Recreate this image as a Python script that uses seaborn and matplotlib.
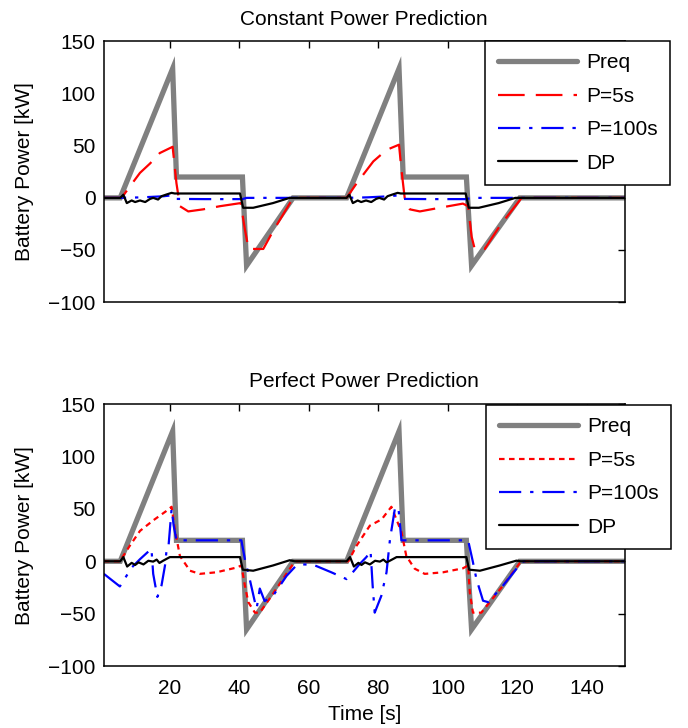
import numpy as np
import pandas as pd
import seaborn as sns
import matplotlib.pyplot as plt

# requested power, same in both panels
t_req = [1, 5.7, 20.8, 21.9, 40.9, 42.1, 55.5, 70.9, 86.0, 87.2, 105.4, 106.9, 120.8, 151]
p_req = [0, 0, 124, 20, 20, -65, 0, 0, 124, 20, 20, -65, 0, 0]

# --- constant power prediction ---
t_c5 = [1, 6.1, 8.5, 11.4, 14.3, 17.1, 20.8, 21.3, 21.9, 22.9, 25.3, 29.6, 34.4, 40.4,
        41.6, 42.6, 43.0, 46.9, 49.7, 55.5,
        70.9, 73.8, 78.6, 82.4, 86.0, 86.7, 87.7, 89.1, 92.0, 97.7, 104.4, 105.9,
        106.9, 107.8, 110.7, 115.0, 121.3, 151]
p_c5 = [0, 0, 11, 24, 33, 43, 49, 33, 14, -8, -13, -11, -8, -5,
        -30, -48, -49, -49, -32, 0,
        0, 14, 35, 46, 51, 27, -2, -11, -13, -9.5, -5.5, -8,
        -37, -49, -49, -27, 0, 0]

t_c100 = [1, 5.7, 12, 18, 20.8, 21.9, 30, 40.9, 42.1, 70.9, 77, 83, 86.0, 87.2, 95, 105.4, 106.9, 151]
p_c100 = [0, 0, 0.5, 1.5, 2.5, -1, -1.2, -1.2, 0, 0, 0.5, 1.5, 2.5, -1, -1.2, -1.2, 0, 0]

t_dp1 = [1, 5.7, 6.6, 7.6, 9.0, 10.0, 11.4, 12.9, 14.3, 15.2, 16.6, 17.6, 19.0, 20.5, 21.4,
         40.2, 41.1, 44.0, 49.7, 54.5,
         70.9, 71.7, 72.7, 74.1, 75.1, 76.5, 78.0, 79.4, 80.3, 81.7, 82.7, 84.1, 85.6, 86.5,
         105.2, 106.1, 109.0, 114.7, 119.5, 151]
p_dp1 = [0, 0, 3, -5, -2.5, -4, -2.5, -4, -1, 0, -1.6, 1.6, 3.2, 4.8, 4.2,
         4.2, -9.5, -9.5, -5, 0,
         0, 3, -5, -2.5, -4, -2.5, -4, -1, 0, -1.6, 1.6, 3.2, 4.8, 4.2,
         4.2, -9.5, -9.5, -5, 0, 0]

# --- perfect power prediction ---
t_p5 = [1, 5.6, 8.5, 11.4, 15.2, 19.0, 20.5, 21.4, 22.9, 25.8, 28.6, 33.4, 39.2, 40.6,
        41.6, 42.6, 44.5, 45.9, 49.7, 55.5, 56.2,
        71.4, 73.8, 77.6, 81.0, 83.8, 86.7, 88.1, 90.5, 93.4, 98.7, 104.4, 105.9,
        106.4, 107.3, 109.7, 116.0, 120.8, 121.5, 151]
p_p5 = [0, 0, 15, 29, 39, 48, 52, 31, 5, -9, -12, -10.5, -6, -4,
        -23, -39, -49, -49, -31, -2.5, 0,
        0, 15, 34, 40, 52, 28, 5, -7, -12, -10.5, -6.7, -4,
        -30, -49, -49, -23, -1.6, 0, 0]

t_p100 = [1, 5.6, 9.0, 11.4, 14.7, 15.2, 16.4, 17.6, 18.6, 19.0, 19.5, 20.5, 21.1, 21.9,
          40.6, 41.6, 43.0, 44.5, 45.0, 45.9, 47.3, 49.7, 53.6, 56.4, 58.4, 61.3, 66.5,
          70.9, 72.3, 74.7, 76.6, 77.8, 78.4, 79.0, 80.9, 82.4, 83.4, 84.8, 85.8, 86.7,
          105.9, 107.2, 108.3, 110.2, 111.7, 116.0, 121.3, 122, 151]
p_p100 = [-12, -24, -6, 2, 12, -12, -34, -23, -4, 9, 10, 50, 34, 20,
          20, 2, -17, -39, -45, -26, -38, -33, -14, -4, -3, -3.3, -10.5,
          -17, -12, -2.5, 4, 10, -23, -49, -33, -10.5, 21, 50, 52, 20,
          20, 0.6, -17, -37.6, -39, -23, -1, 0, 0]

t_dp2 = [1, 5.7, 6.6, 7.7, 9.0, 10.0, 11.0, 12.4, 13.8, 15.2, 16.2, 17.0, 18.1, 20.0,
         40.2, 41.0, 44.0, 49.7, 54.5, 56.0,
         70.9, 71.9, 73.0, 74.3, 75.2, 76.2, 77.6, 79.1, 80.5, 81.5, 82.4, 83.4, 85.3,
         105.4, 106.2, 109.3, 115.0, 119.8, 121.0, 151]
p_dp2 = [0, 0, 4, -5, -1.5, -3.5, -1, -3, 0.5, -0.3, 1.6, -1.6, 0.6, 4,
         4, -8, -9, -4, 1, 0,
         0, 4, -5, -1.5, -3.5, -1, -3, 0.5, -0.3, 1.6, -1, 0.6, 4,
         4, -8, -9, -4, 0.6, 0, 0]

x_ticks = [20, 40, 60, 80, 100, 120, 140]
y_ticks = [-100, -50, 0, 50, 100, 150]

sns.set_style("white")
plt.rcParams['font.family'] = ['Liberation Sans', 'DejaVu Sans']
plt.rcParams['font.size'] = 15
for k in ['text.color', 'axes.labelcolor', 'xtick.color', 'ytick.color']:
    plt.rcParams[k] = 'black'

fig = plt.figure(figsize=(6.88, 7.28), dpi=100)
ax1 = fig.add_axes([0.151, 0.585, 0.757, 0.358])
ax2 = fig.add_axes([0.151, 0.085, 0.757, 0.360])

gray = '#808080'
dash_red = (0, (12, 5))
dashdot = (0, (10, 4, 1.5, 4))
dotted = (0, (2.5, 2))

# legend top-left corners in pixels (they stick out past the right spine)
panels = [
    (ax1, "Constant Power Prediction", (t_c5, p_c5, dash_red), (t_c100, p_c100), (t_dp1, p_dp1), (485, 41)),
    (ax2, "Perfect Power Prediction", (t_p5, p_p5, dotted), (t_p100, p_p100), (t_dp2, p_dp2), (486, 405)),
]

for ax, title, red, blue, black, corner in panels:
    sns.lineplot(x=t_req, y=p_req, ax=ax, color=gray, lw=3.8, estimator=None, sort=False,
                 label='Preq', solid_joinstyle='miter')
    sns.lineplot(x=red[0], y=red[1], ax=ax, color='red', lw=1.6, estimator=None, sort=False,
                 label='P=5s', linestyle=red[2])
    sns.lineplot(x=blue[0], y=blue[1], ax=ax, color='blue', lw=1.6, estimator=None, sort=False,
                 label='P=100s', linestyle=dashdot)
    sns.lineplot(x=black[0], y=black[1], ax=ax, color='black', lw=1.6, estimator=None, sort=False,
                 label='DP')
    ax.set_xlim(1, 151)
    ax.set_ylim(-100, 150)
    ax.set_xticks(x_ticks)
    ax.set_yticks(y_ticks)
    ax.set_title(title, fontsize=15, pad=12)
    ax.set_ylabel("Battery Power [kW]", fontsize=15, labelpad=10)
    ax.tick_params(direction='in', length=5, width=1, top=True, right=True, labelsize=15, pad=6)
    ax.tick_params(axis='x', pad=9)
    for s in ax.spines.values():
        s.set_visible(True)
        s.set_color('black')
        s.set_linewidth(1.1)
    leg = ax.legend(loc='upper left', bbox_to_anchor=(corner[0] / 688, 1 - corner[1] / 728),
                    bbox_transform=fig.transFigure, borderaxespad=0, fancybox=False, fontsize=15,
                    handlelength=3.8, handletextpad=0.45, labelspacing=0.69,
                    borderpad=0.6, framealpha=1)
    leg.get_frame().set_edgecolor('black')
    leg.get_frame().set_linewidth(1.1)

ax1.set_xticklabels([])
ax1.set_xlabel("")
ax2.set_xlabel("Time [s]", fontsize=15, labelpad=5)

fig.savefig("out.png", dpi=100)
